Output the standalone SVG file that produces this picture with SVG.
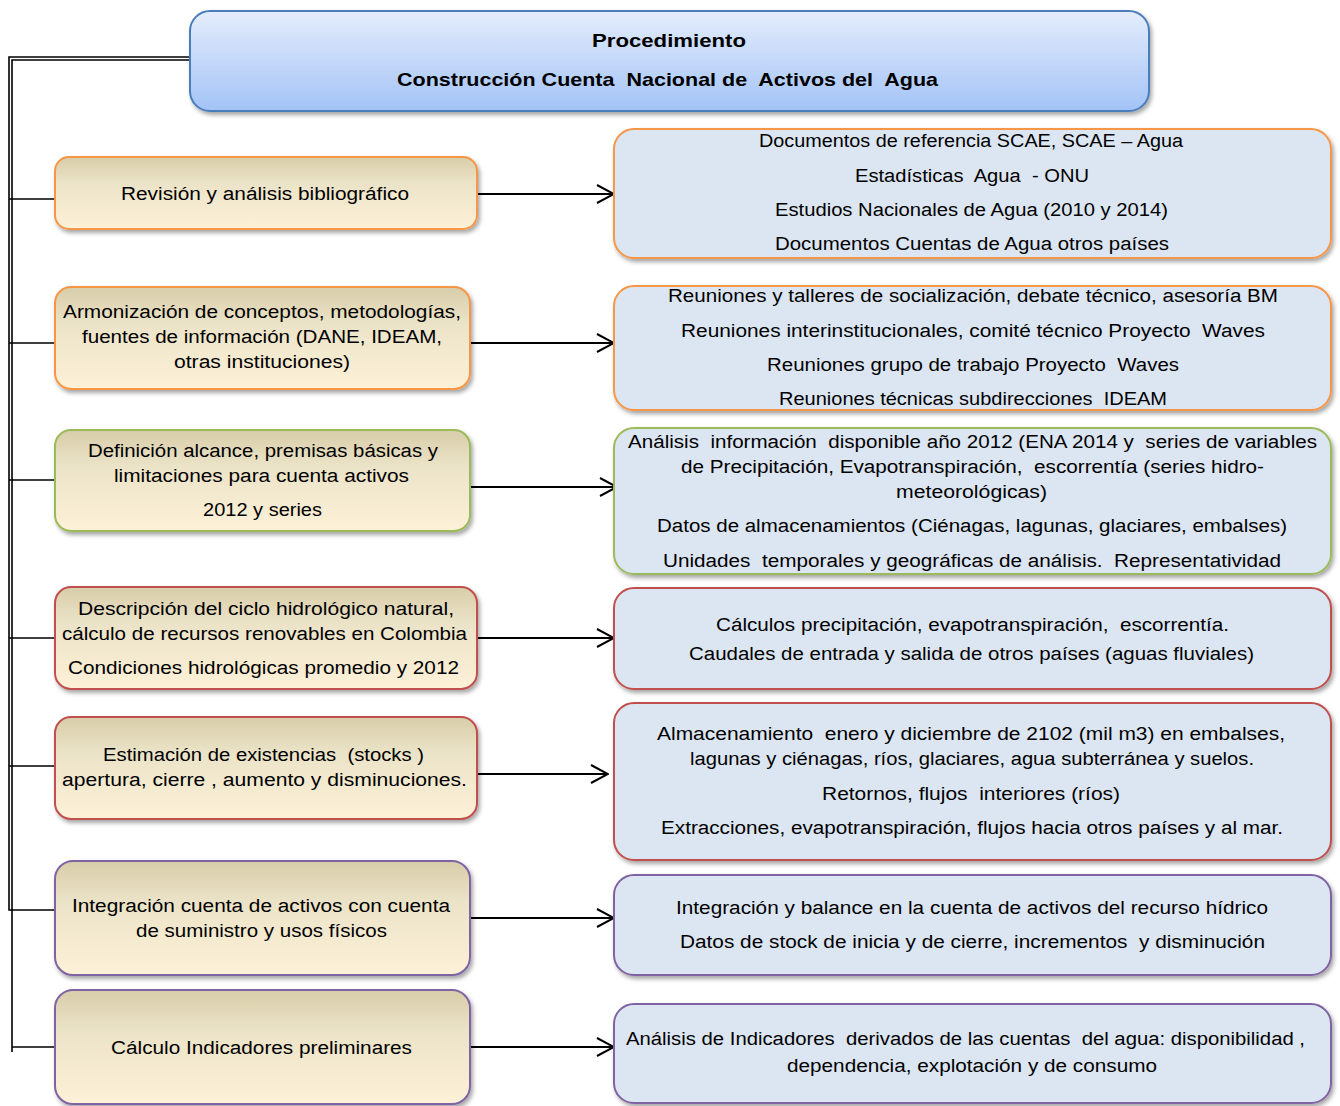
<svg xmlns="http://www.w3.org/2000/svg" width="1340" height="1106" viewBox="0 0 1340 1106">
  <defs>
    <linearGradient id="gHead" x1="0" y1="0" x2="0" y2="1">
      <stop offset="0" stop-color="#e4edfc"/>
      <stop offset="1" stop-color="#a3c3f6"/>
    </linearGradient>
    <linearGradient id="gTan" x1="0" y1="0" x2="0" y2="1">
      <stop offset="0" stop-color="#d8cda9"/>
      <stop offset="0.35" stop-color="#ebe3c7"/>
      <stop offset="1" stop-color="#fdf1d8"/>
    </linearGradient>
    <filter id="shadow" x="-5%" y="-10%" width="112%" height="130%">
      <feDropShadow dx="2" dy="3" stdDeviation="2" flood-color="#000" flood-opacity="0.35"/>
    </filter>
    <marker id="arrow" viewBox="0 0 20 20" refX="19" refY="10" markerWidth="20" markerHeight="20" markerUnits="userSpaceOnUse" orient="auto">
      <path d="M2,1 L19,10 L2,19" fill="none" stroke="#000" stroke-width="2"/>
    </marker>
  </defs>
  <style>
    text { font-family: "Liberation Sans", Arial, sans-serif; font-size: 18px; fill: #000; white-space: pre; }
    .hd { font-weight: bold; font-size: 19px; }
    .box { filter: url(#shadow); stroke-width: 2; }
    .left { fill: url(#gTan); }
    .right { fill: #dce6f2; }
    .orange { stroke: #f79646; }
    .green { stroke: #9bbb59; }
    .red { stroke: #c0504d; }
    .purple { stroke: #8064a2; }
    .tree { fill: none; stroke: #000; stroke-width: 1.6; }
    .arr { fill: none; stroke: #000; stroke-width: 2; marker-end: url(#arrow); }
  </style>

  <rect width="1340" height="1106" fill="#fff"/>

  <!-- connectors -->
  <g id="connectors">
    <path class="tree" d="M190,57 H9 V910 H72"/>
    <path class="tree" d="M190,60 H12 V1052"/>
    <path class="tree" d="M9,199 H55 M9,343 H55 M9,480 H55 M9,638 H55 M9,766 H55 M12,1047 H55"/>
    <path class="arr" d="M477,194 H614"/>
    <path class="arr" d="M470,343 H614"/>
    <path class="arr" d="M470,487 H617"/>
    <path class="arr" d="M477,638 H614"/>
    <path class="arr" d="M471,774 H608"/>
    <path class="arr" d="M470,918 H614"/>
    <path class="arr" d="M470,1047 H614"/>
  </g>

  <!-- header -->
  <g id="header">
    <rect class="box" x="190" y="11" width="959" height="100" rx="20" fill="url(#gHead)" stroke="#4a7ebb"/>
    <text class="hd" x="592" y="47" textLength="154" lengthAdjust="spacingAndGlyphs">Procedimiento</text>
    <text class="hd" x="397" y="86" textLength="541" lengthAdjust="spacingAndGlyphs">Construcción Cuenta  Nacional de  Activos del  Agua</text>
  </g>

  <!-- left column steps -->
  <g id="step1">
    <rect class="box left orange" x="55" y="157" width="422" height="72" rx="14"/>
    <text x="121" y="200" textLength="288" lengthAdjust="spacingAndGlyphs">Revisión y análisis bibliográfico</text>
  </g>
  <g id="step2">
    <rect class="box left orange" x="55" y="287" width="415" height="102" rx="16"/>
    <text x="63" y="318" textLength="398" lengthAdjust="spacingAndGlyphs">Armonización de conceptos, metodologías,</text>
    <text x="82" y="343" textLength="360" lengthAdjust="spacingAndGlyphs">fuentes de información (DANE, IDEAM,</text>
    <text x="174" y="368" textLength="176" lengthAdjust="spacingAndGlyphs">otras instituciones)</text>
  </g>
  <g id="step3">
    <rect class="box left green" x="55" y="430" width="415" height="101" rx="16"/>
    <text x="88" y="457" textLength="350" lengthAdjust="spacingAndGlyphs">Definición alcance, premisas básicas y</text>
    <text x="114" y="482" textLength="295" lengthAdjust="spacingAndGlyphs">limitaciones para cuenta activos</text>
    <text x="203" y="516" textLength="119" lengthAdjust="spacingAndGlyphs">2012 y series</text>
  </g>
  <g id="step4">
    <rect class="box left red" x="55" y="587" width="422" height="102" rx="16"/>
    <text x="78" y="615" textLength="376" lengthAdjust="spacingAndGlyphs">Descripción del ciclo hidrológico natural,</text>
    <text x="62" y="640" textLength="405" lengthAdjust="spacingAndGlyphs">cálculo de recursos renovables en Colombia</text>
    <text x="68" y="674" textLength="391" lengthAdjust="spacingAndGlyphs">Condiciones hidrológicas promedio y 2012</text>
  </g>
  <g id="step5">
    <rect class="box left red" x="55" y="717" width="422" height="102" rx="16"/>
    <text x="103" y="761" textLength="321" lengthAdjust="spacingAndGlyphs">Estimación de existencias  (stocks )</text>
    <text x="62" y="786" textLength="405" lengthAdjust="spacingAndGlyphs">apertura, cierre , aumento y disminuciones.</text>
  </g>
  <g id="step6">
    <rect class="box left purple" x="55" y="861" width="415" height="114" rx="18"/>
    <text x="72" y="912" textLength="378" lengthAdjust="spacingAndGlyphs">Integración cuenta de activos con cuenta</text>
    <text x="136" y="937" textLength="251" lengthAdjust="spacingAndGlyphs">de suministro y usos físicos</text>
  </g>
  <g id="step7">
    <rect class="box left purple" x="55" y="990" width="415" height="114" rx="18"/>
    <text x="111" y="1054" textLength="301" lengthAdjust="spacingAndGlyphs">Cálculo Indicadores preliminares</text>
  </g>

  <!-- right column details -->
  <g id="detail1">
    <rect class="box right orange" x="614" y="129" width="717" height="129" rx="20"/>
    <text x="759" y="147" textLength="424" lengthAdjust="spacingAndGlyphs">Documentos de referencia SCAE, SCAE – Agua</text>
    <text x="855" y="182" textLength="234" lengthAdjust="spacingAndGlyphs">Estadísticas  Agua  - ONU</text>
    <text x="775" y="216" textLength="393" lengthAdjust="spacingAndGlyphs">Estudios Nacionales de Agua (2010 y 2014)</text>
    <text x="775" y="250" textLength="394" lengthAdjust="spacingAndGlyphs">Documentos Cuentas de Agua otros países</text>
  </g>
  <g id="detail2">
    <rect class="box right orange" x="614" y="286" width="717" height="124" rx="20"/>
    <text x="668" y="302" textLength="610" lengthAdjust="spacingAndGlyphs">Reuniones y talleres de socialización, debate técnico, asesoría BM</text>
    <text x="681" y="337" textLength="584" lengthAdjust="spacingAndGlyphs">Reuniones interinstitucionales, comité técnico Proyecto  Waves</text>
    <text x="767" y="371" textLength="412" lengthAdjust="spacingAndGlyphs">Reuniones grupo de trabajo Proyecto  Waves</text>
    <text x="779" y="405" textLength="388" lengthAdjust="spacingAndGlyphs">Reuniones técnicas subdirecciones  IDEAM</text>
  </g>
  <g id="detail3">
    <rect class="box right green" x="614" y="428" width="717" height="146" rx="20"/>
    <text x="628" y="448" textLength="689" lengthAdjust="spacingAndGlyphs">Análisis  información  disponible año 2012 (ENA 2014 y  series de variables</text>
    <text x="681" y="473" textLength="583" lengthAdjust="spacingAndGlyphs">de Precipitación, Evapotranspiración,  escorrentía (series hidro-</text>
    <text x="896" y="498" textLength="151" lengthAdjust="spacingAndGlyphs">meteorológicas)</text>
    <text x="657" y="532" textLength="630" lengthAdjust="spacingAndGlyphs">Datos de almacenamientos (Ciénagas, lagunas, glaciares, embalses)</text>
    <text x="663" y="567" textLength="618" lengthAdjust="spacingAndGlyphs">Unidades  temporales y geográficas de análisis.  Representatividad</text>
  </g>
  <g id="detail4">
    <rect class="box right red" x="614" y="588" width="717" height="101" rx="20"/>
    <text x="716" y="631" textLength="513" lengthAdjust="spacingAndGlyphs">Cálculos precipitación, evapotranspiración,  escorrentía.</text>
    <text x="689" y="660" textLength="565" lengthAdjust="spacingAndGlyphs">Caudales de entrada y salida de otros países (aguas fluviales)</text>
  </g>
  <g id="detail5">
    <rect class="box right red" x="614" y="703" width="717" height="157" rx="20"/>
    <text x="657" y="740" textLength="628" lengthAdjust="spacingAndGlyphs">Almacenamiento  enero y diciembre de 2102 (mil m3) en embalses,</text>
    <text x="690" y="765" textLength="564" lengthAdjust="spacingAndGlyphs">lagunas y ciénagas, ríos, glaciares, agua subterránea y suelos.</text>
    <text x="822" y="800" textLength="298" lengthAdjust="spacingAndGlyphs">Retornos, flujos  interiores (ríos)</text>
    <text x="661" y="834" textLength="622" lengthAdjust="spacingAndGlyphs">Extracciones, evapotranspiración, flujos hacia otros países y al mar.</text>
  </g>
  <g id="detail6">
    <rect class="box right purple" x="614" y="875" width="717" height="100" rx="20"/>
    <text x="676" y="914" textLength="592" lengthAdjust="spacingAndGlyphs">Integración y balance en la cuenta de activos del recurso hídrico</text>
    <text x="680" y="948" textLength="585" lengthAdjust="spacingAndGlyphs">Datos de stock de inicia y de cierre, incrementos  y disminución</text>
  </g>
  <g id="detail7">
    <rect class="box right purple" x="614" y="1004" width="717" height="99" rx="20"/>
    <text x="626" y="1045" textLength="679" lengthAdjust="spacingAndGlyphs">Análisis de Indicadores  derivados de las cuentas  del agua: disponibilidad ,</text>
    <text x="787" y="1072" textLength="370" lengthAdjust="spacingAndGlyphs">dependencia, explotación y de consumo</text>
  </g>
</svg>
